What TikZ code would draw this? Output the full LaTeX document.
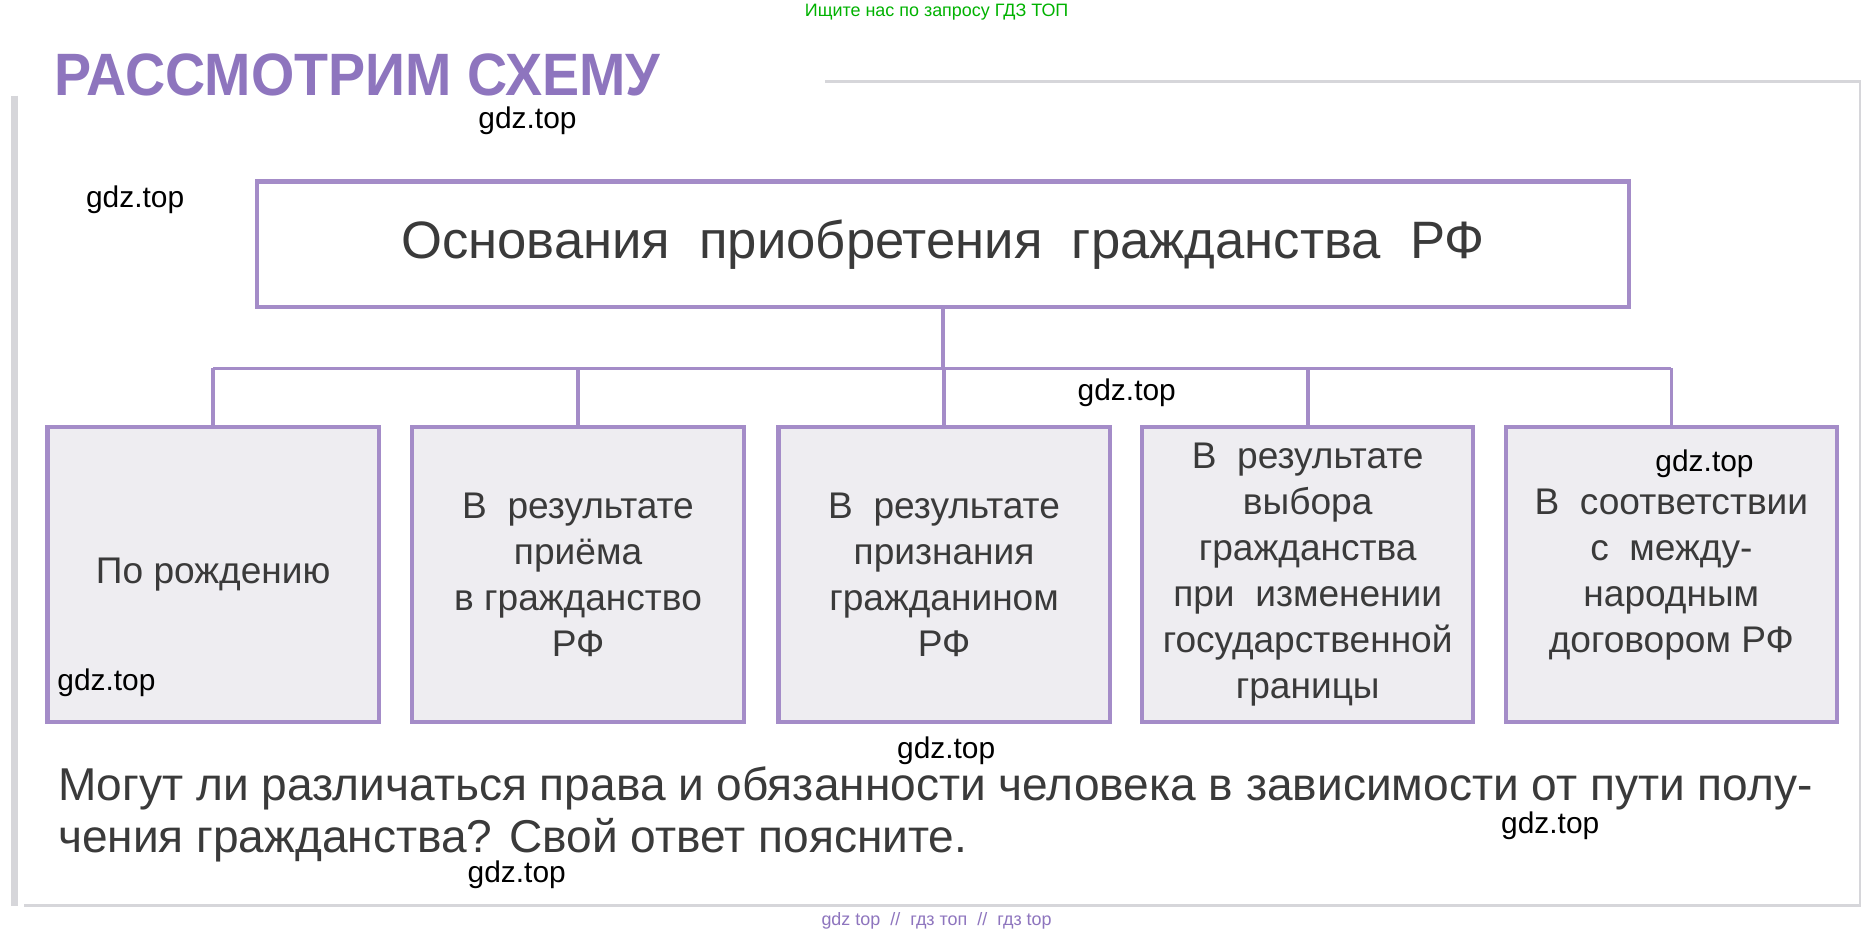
\documentclass[tikz,border=0pt]{standalone}
\usepackage{fontspec}
\setmainfont{Liberation Sans}
\begin{document}
\begin{tikzpicture}[x=1pt,y=-1pt,
  frame/.style={draw=purp,line width=3.5pt},
  sub/.style={frame,fill=boxgray,minimum width=277pt,minimum height=247pt,anchor=north west,inner sep=0pt},
  subtxt/.style={align=center,font=\fontsize{31}{38.5}\selectfont,text=txt},
  wm/.style={font=\fontsize{25}{25}\selectfont,text=black},
  link/.style={draw=purp,line width=3pt}]
\definecolor{purp}{HTML}{A48CC8}
\definecolor{boxgray}{HTML}{EEEDF1}
\definecolor{txt}{HTML}{3A3A3A}
\definecolor{titlec}{HTML}{8E75BE}
\definecolor{faint}{HTML}{D6D6DA}
\useasboundingbox (0,0) rectangle (1560,780);
\fill[white] (0,0) rectangle (1560,780);
% page frame
\draw[faint,line width=2pt] (690,68) -- (1555,68) -- (1555,757) -- (20,757);
\draw[faint,line width=6pt] (12,80) -- (12,757);
\node[text=green!70!black,font=\fontsize{15}{15}\selectfont] (top) at (783,10) {Ищите нас по запросу ГДЗ ТОП};
\node[anchor=west,text=titlec,font=\fontsize{50}{50}\bfseries\selectfont,xscale=0.93,inner sep=0pt] (title) at (45,63) {РАССМОТРИМ СХЕМУ};
% main box
\node[frame,fill=white,minimum width=1147pt,minimum height=105pt,anchor=north west,inner sep=0pt] (main) at (213,150) {};
\node[font=\fontsize{44}{44}\selectfont,text=txt] (maintxt) at (main.center) {Основания\ \ приобретения\ \ гражданства\ \ РФ};
% sub boxes
\node[sub] (b1) at (38,355) {};
\node[sub] (b2) at (343,355) {};
\node[sub] (b3) at (649,355) {};
\node[sub] (b4) at (953,355) {};
\node[sub] (b5) at (1257,355) {};
\node[subtxt] at (b1.center) {По рождению};
\node[subtxt] at (b2.center) {В\ \ результате\\приёма\\в гражданство\\РФ};
\node[subtxt] at (b3.center) {В\ \ результате\\признания\\гражданином\\РФ};
\node[subtxt] at (b4.center) {В\ \ результате\\выбора\\гражданства\\при\ \ изменении\\государственной\\границы};
\node[subtxt] at (b5.center) {В\ \ соответствии\\с\ \ между-\\народным\\договором РФ};
% connectors
\coordinate (hub) at (789,308);
\draw[link] (main.south) -- (main.south |- hub);
\draw[link] (b1.north |- hub) -- (b5.north |- hub);
\foreach \b in {b1,b2,b3,b4,b5} \draw[link] (\b.north |- hub) -- (\b.north);
% question
\node[anchor=west,text=txt,font=\fontsize{38.5}{43}\selectfont,align=left] (q) at (45,681) {Могут ли различаться права и обязанности человека в зависимости от пути полу-\\чения гражданства? Свой ответ поясните.};
% watermarks
\node[wm] (w1) at (441,101) {gdz.top};
\node[wm] (w2) at (113,167) {gdz.top};
\node[wm] (w3) at (942,328) {gdz.top};
\node[wm] (w4) at (1425,388) {gdz.top};
\node[wm] (w5) at (89,571) {gdz.top};
\node[wm] (w6) at (791,628) {gdz.top};
\node[wm] (w7) at (1296,690) {gdz.top};
\node[wm] (w8) at (432,731) {gdz.top};
\node[text=titlec,font=\fontsize{15}{15}\selectfont] (bot) at (783,770) {gdz top\ \ //\ \ гдз топ\ \ //\ \ гдз top};
\end{tikzpicture}
\end{document}
